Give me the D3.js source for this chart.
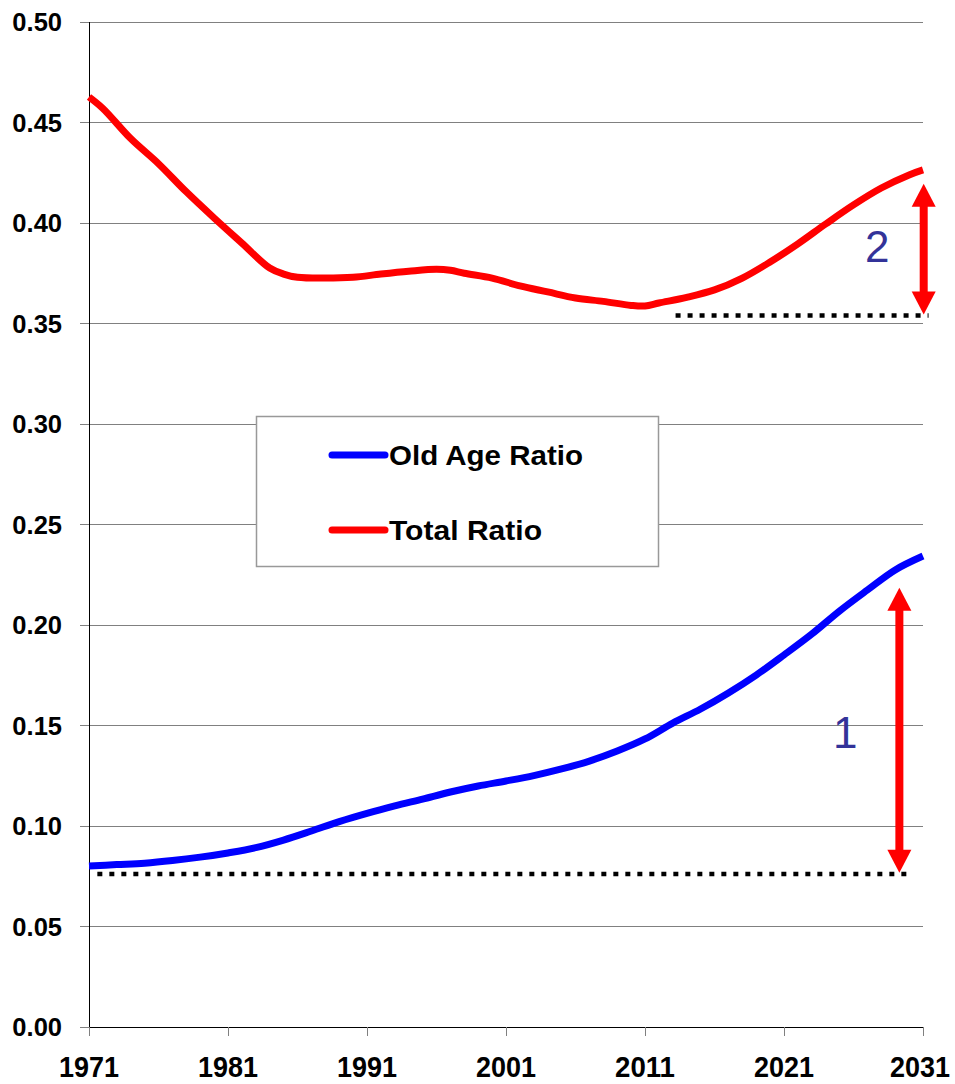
<!DOCTYPE html>
<html><head><meta charset="utf-8">
<script src="https://cdn.jsdelivr.net/npm/d3@7/dist/d3.min.js"></script>
<style>body{margin:0;background:#fff}svg{display:block}text{font-family:"Liberation Sans",Arial,sans-serif}</style>
</head><body>
<svg id="c" width="955" height="1084"></svg>
<script>
const years = [1971,1972,1974,1976,1978,1980,1982,1984,1985,1986,1988,1990,1992,1994,1996,1997,1998,2000,2002,2004,2006,2008,2010,2011,2012,2014,2016,2018,2020,2022,2024,2026,2028,2030,2031];
const totalRatio = [0.4627,0.457,0.442,0.4295,0.4155,0.4025,0.390,0.3776,0.3746,0.373,0.3726,0.373,0.3746,0.376,0.377,0.3765,0.375,0.3726,0.3687,0.3657,0.3627,0.361,0.359,0.3587,0.3602,0.363,0.3667,0.3726,0.3806,0.3896,0.3995,0.409,0.4174,0.4239,0.4264];
const oldYears = [1971,1973,1975,1977,1979,1981,1983,1985,1987,1989,1991,1993,1995,1997,1999,2001,2003,2005,2007,2009,2011,2013,2015,2017,2019,2021,2023,2025,2027,2029,2031];
const oldAgeRatio = [0.0801,0.0808,0.0815,0.0828,0.0845,0.0866,0.0892,0.093,0.0975,0.1022,0.1063,0.110,0.1134,0.1169,0.1199,0.1224,0.1251,0.1284,0.1323,0.1373,0.1433,0.1512,0.1582,0.1662,0.1751,0.1851,0.1955,0.207,0.2174,0.2274,0.2343];
const yTicks = [0,0.05,0.10,0.15,0.20,0.25,0.30,0.35,0.40,0.45,0.50];
const xTicks = [1971,1981,1991,2001,2011,2021,2031];
const seriesNames = ["Old Age Ratio","Total Ratio"];
const seriesColors = ["#0000ff","#ff0000"];
// reference levels & annotation
const baseOld = 0.0761, baseTotal = 0.354;
const arrow1 = {year:2029.3, from:0.0768, to:0.2185, label:"1", labelYear:2025.4, labelVal:0.139};
const arrow2 = {year:2031.05, from:0.3545, to:0.4195, label:"2", labelYear:2027.7, labelVal:0.3805};

const svg = d3.select("#c");
const x = d3.scaleLinear().domain([1971,2031]).range([89,923]);
const y = d3.scaleLinear().domain([0,0.5]).range([1027,22]);

// gridlines
svg.append("g").selectAll("line").data(yTicks.filter(d=>d>0)).join("line")
  .attr("x1",80).attr("x2",923).attr("y1",d=>y(d)).attr("y2",d=>y(d))
  .attr("stroke","#808080").attr("stroke-width",1).attr("shape-rendering","crispEdges");
svg.append("line").attr("x1",80).attr("x2",89).attr("y1",y(0)).attr("y2",y(0)).attr("stroke","#808080").attr("shape-rendering","crispEdges");
// axes
svg.append("line").attr("x1",89).attr("x2",89).attr("y1",y(0.5)).attr("y2",y(0)).attr("stroke","#000").attr("shape-rendering","crispEdges");
svg.append("line").attr("x1",89).attr("x2",923).attr("y1",y(0)).attr("y2",y(0)).attr("stroke","#000").attr("shape-rendering","crispEdges");
svg.append("g").selectAll("line").data(xTicks).join("line")
  .attr("x1",d=>x(d)).attr("x2",d=>x(d)).attr("y1",y(0)).attr("y2",y(0)+9)
  .attr("stroke","#808080").attr("shape-rendering","crispEdges");

// y labels
svg.append("g").selectAll("text").data(yTicks).join("text")
  .attr("x",62).attr("y",d=>y(d)+9).attr("text-anchor","end")
  .attr("font-size",25.5).attr("font-weight","bold").text(d=>d.toFixed(2));
// x labels
svg.append("g").selectAll("text").data(xTicks).join("text")
  .attr("x",d=>Math.min(x(d),920)).attr("y",1077).attr("text-anchor","middle")
  .attr("font-size",29).attr("font-weight","bold")
  .attr("textLength",60).attr("lengthAdjust","spacingAndGlyphs").text(d=>d);

// dotted reference lines
svg.append("line").attr("x1",x(1971.6)).attr("x2",x(2030.2)).attr("y1",y(baseOld)).attr("y2",y(baseOld))
  .attr("stroke","#000").attr("stroke-width",4.5).attr("stroke-dasharray","5,7");
svg.append("line").attr("x1",x(2013.2)).attr("x2",x(2031.4)).attr("y1",y(baseTotal)).attr("y2",y(baseTotal))
  .attr("stroke","#000").attr("stroke-width",4.5).attr("stroke-dasharray","5,7");

// series
const line = d3.line().curve(d3.curveCatmullRom.alpha(0.5));
svg.append("path").attr("d",line(oldYears.map((d,i)=>[x(d),y(oldAgeRatio[i])])))
  .attr("fill","none").attr("stroke",seriesColors[0]).attr("stroke-width",7);
svg.append("path").attr("d",line(years.map((d,i)=>[x(d),y(totalRatio[i])])))
  .attr("fill","none").attr("stroke",seriesColors[1]).attr("stroke-width",7);

// double arrows
function dblArrow(a){
  const cx=x(a.year), yb=y(a.from), yt=y(a.to), hl=23, hw=12, sw=4;
  const g=svg.append("g");
  g.append("rect").attr("x",cx-sw).attr("y",yt+hl-1).attr("width",sw*2).attr("height",(yb-yt)-2*hl+2).attr("fill","#ff0000");
  g.append("path").attr("d",`M${cx},${yt} L${cx+hw},${yt+hl} L${cx-hw},${yt+hl}Z`).attr("fill","#ff0000");
  g.append("path").attr("d",`M${cx},${yb} L${cx+hw},${yb-hl} L${cx-hw},${yb-hl}Z`).attr("fill","#ff0000");
  svg.append("text").attr("x",x(a.labelYear)).attr("y",y(a.labelVal)).attr("text-anchor","middle")
    .attr("font-size",44).attr("fill","#333399").text(a.label);
}
dblArrow(arrow1);
dblArrow(arrow2);

// legend
const lg = svg.append("g");
lg.append("rect").attr("x",256.5).attr("y",416.5).attr("width",402).attr("height",150)
  .attr("fill","#fff").attr("stroke","#999").attr("stroke-width",1.5);
const legendLen = [194,153];
seriesNames.forEach((n,i)=>{
  const ly = 455 + i*75;
  lg.append("line").attr("x1",332).attr("x2",385).attr("y1",ly).attr("y2",ly)
    .attr("stroke",seriesColors[i]).attr("stroke-width",7).attr("stroke-linecap","round");
  lg.append("text").attr("x",389).attr("y",ly+10).attr("font-size",28).attr("font-weight","bold")
    .attr("textLength",legendLen[i]).attr("lengthAdjust","spacingAndGlyphs").text(n);
});
</script>
</body></html>
